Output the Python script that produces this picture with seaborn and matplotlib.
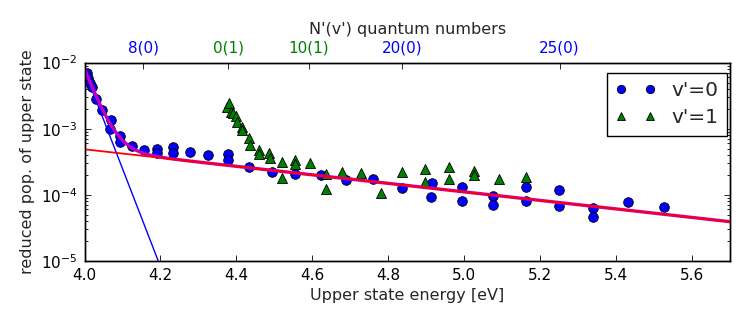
import numpy as np
import pandas as pd
import matplotlib
matplotlib.use("Agg")
import matplotlib.pyplot as plt
import seaborn as sns
from matplotlib.lines import Line2D
from matplotlib.ticker import LogLocator, NullFormatter, NullLocator

# ---------------- data ----------------
energy_v0 = [4.007, 4.009, 4.015, 4.020, 4.029, 4.047, 4.069, 4.067, 4.094, 4.094,
             4.124, 4.157, 4.192, 4.192, 4.234, 4.234, 4.278, 4.326, 4.378, 4.378,
             4.434, 4.493, 4.553, 4.622, 4.688, 4.760, 4.835, 4.914, 4.912, 4.994,
             4.994, 5.076, 5.076, 5.162, 5.162, 5.250, 5.250, 5.339, 5.339, 5.432,
             5.526]
pop_v0 = [6.9e-3, 5.8e-3, 5.0e-3, 4.33e-3, 2.82e-3, 1.92e-3, 1.34e-3, 9.8e-4, 7.75e-4, 6.28e-4,
          5.56e-4, 4.75e-4, 4.84e-4, 4.24e-4, 5.22e-4, 4.24e-4, 4.49e-4, 4.0e-4, 4.2e-4, 3.32e-4,
          2.63e-4, 2.23e-4, 2.08e-4, 1.99e-4, 1.67e-4, 1.71e-4, 1.25e-4, 1.52e-4, 9.1e-5, 1.29e-4,
          7.94e-5, 9.55e-5, 6.98e-5, 1.32e-4, 8.11e-5, 1.16e-4, 6.75e-5, 6.22e-5, 4.65e-5, 7.8e-5,
          6.58e-5]

energy_v1 = [4.374, 4.380, 4.385, 4.392, 4.398, 4.401, 4.414, 4.416, 4.434, 4.436,
             4.459, 4.460, 4.486, 4.488, 4.519, 4.519, 4.554, 4.554, 4.593, 4.635,
             4.635, 4.679, 4.729, 4.782, 4.837, 4.896, 4.896, 4.959, 4.959, 5.025,
             5.025, 5.092, 5.162]
pop_v1 = [2.15e-3, 2.48e-3, 1.81e-3, 1.71e-3, 1.55e-3, 1.28e-3, 1.07e-3, 9.5e-4, 7.16e-4, 5.66e-4,
          4.75e-4, 4.14e-4, 4.24e-4, 3.56e-4, 3.16e-4, 1.77e-4, 3.36e-4, 2.92e-4, 3.05e-4, 2.04e-4,
          1.21e-4, 2.18e-4, 2.11e-4, 1.07e-4, 2.18e-4, 2.45e-4, 1.57e-4, 2.65e-4, 1.71e-4, 2.31e-4,
          1.99e-4, 1.71e-4, 1.87e-4]

# two-temperature fit parameters (log10 intercept at E0 and slope in decades/eV)
fit_E0 = 4.0
hot_log10_amp, hot_slope = -3.312, -0.645     # red line
cold_log10_amp, cold_slope = -2.12, -14.85    # blue line

# top axis: rotational levels N'(v')
level_energies = [4.154, 4.378, 4.591, 4.836, 5.251]
level_labels = ["8(0)", "0(1)", "10(1)", "20(0)", "25(0)"]
level_colors = ["#0000ff", "#008000", "#008000", "#0000ff", "#0000ff"]

xticks = [4.0, 4.2, 4.4, 4.6, 4.8, 5.0, 5.2, 5.4, 5.6]

# ---------------- style ----------------
sns.set_style("ticks")
plt.rcParams.update({
    "font.family": ["DejaVu Sans"],
    "mathtext.fontset": "dejavusans",
    "xtick.direction": "in", "ytick.direction": "in",
    "xtick.major.size": 4.5, "ytick.major.size": 4.5,
    "xtick.minor.size": 2.5, "ytick.minor.size": 2.5,
    "xtick.major.width": 0.6, "ytick.major.width": 0.6,
    "ytick.minor.width": 0.6,
    "axes.linewidth": 1.0,
    "axes.edgecolor": "black",
    "xtick.color": "black", "ytick.color": "black",
    "xtick.major.pad": 5, "ytick.major.pad": 5,
})

fig = plt.figure(figsize=(7.48, 3.28), dpi=100)
ax = fig.add_axes([0.113, 0.205, 0.863, 0.604])

df0 = pd.DataFrame({"E": energy_v0, "pop": pop_v0})
df1 = pd.DataFrame({"E": energy_v1, "pop": pop_v1})

sns.scatterplot(data=df0, x="E", y="pop", ax=ax, marker="o", s=48,
                color="#0000ff", edgecolor="black", linewidth=0.6, legend=False, zorder=3)
sns.scatterplot(data=df1, x="E", y="pop", ax=ax, marker="^", s=52,
                color="#008000", edgecolor="black", linewidth=0.6, legend=False, zorder=3)

E_fit = np.linspace(4.0, 5.7, 400)
hot = 10 ** (hot_log10_amp + hot_slope * (E_fit - fit_E0))
cold = 10 ** (cold_log10_amp + cold_slope * (E_fit - fit_E0))
fit_df = pd.DataFrame({"E": E_fit, "hot": hot, "cold": cold, "sum": hot + cold})

sns.lineplot(data=fit_df, x="E", y="cold", ax=ax, color="#0000ff", lw=1.0, zorder=4)
sns.lineplot(data=fit_df, x="E", y="sum", ax=ax, color="#bf00bf", lw=2.4, zorder=5)
sns.lineplot(data=fit_df, x="E", y="hot", ax=ax, color="#ff0000", lw=1.3, zorder=6)

ax.set_yscale("log")
ax.set_xlim(4.0, 5.7)
ax.set_ylim(1e-5, 1e-2)
ax.set_xticks(xticks)
ax.set_xticklabels([f"{t:.1f}" for t in xticks])
ax.yaxis.set_major_locator(LogLocator(base=10, numticks=10))
ax.yaxis.set_minor_locator(LogLocator(base=10, subs=np.arange(2, 10), numticks=20))
ax.yaxis.set_minor_formatter(NullFormatter())
ax.tick_params(axis="both", which="major", labelsize=11)
ax.tick_params(axis="y", which="both", left=True, right=True)
ax.tick_params(axis="x", which="both", bottom=True, top=False)
ax.xaxis.set_minor_locator(NullLocator())
ax.set_xlabel("Upper state energy [eV]", fontsize=11.5, labelpad=4)
ax.set_ylabel("reduced pop. of upper state", fontsize=11.5, labelpad=4)

# top axis
ax2 = ax.twiny()
ax2.set_xlim(ax.get_xlim())
ax2.set_xticks(level_energies)
ax2.set_xticklabels(level_labels)
ax2.tick_params(axis="x", which="major", top=True, bottom=False, direction="in",
                length=4.5, labelsize=11, pad=5)
ax2.xaxis.set_minor_locator(NullLocator())
for lab, c in zip(ax2.get_xticklabels(), level_colors):
    lab.set_color(c)
ax2.set_xlabel("N'(v') quantum numbers", fontsize=11.5, labelpad=5)

handles = [
    Line2D([], [], linestyle="none", marker="o", markersize=6, markerfacecolor="#0000ff",
           markeredgecolor="black", markeredgewidth=0.6),
    Line2D([], [], linestyle="none", marker="^", markersize=5.5, markerfacecolor="#008000",
           markeredgecolor="black", markeredgewidth=0.6),
]
leg = ax.legend(handles, ["v'=0", "v'=1"], loc="upper right",
                bbox_to_anchor=(0.995, 0.946), borderaxespad=0, numpoints=2,
                fontsize=14.5, frameon=True, fancybox=False, framealpha=1,
                handlelength=2.0, labelspacing=0.4, borderpad=0.4, handletextpad=0.8)
leg.get_frame().set_edgecolor("black")
leg.get_frame().set_linewidth(1.0)
leg.set_zorder(10)

fig.savefig("out.png", dpi=100)
